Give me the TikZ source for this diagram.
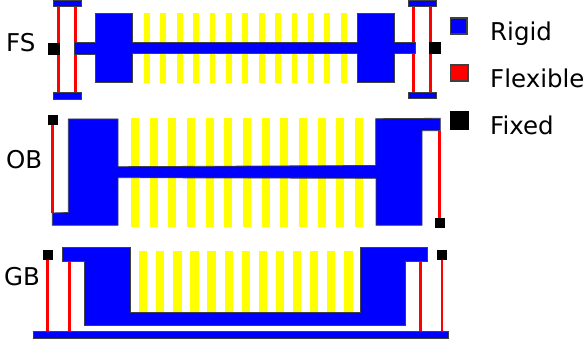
\documentclass[tikz,border=0pt]{standalone}
\usepackage{fontspec}
\setmainfont{DejaVu Sans}
\usepackage{tikz}
\definecolor{fingeryellow}{RGB}{255,255,0}
\definecolor{rigidblue}{RGB}{0,0,255}
\definecolor{flexred}{RGB}{255,0,0}
\tikzset{
    rigid/.style={fill=rigidblue, draw=black!75, line width=0.8pt},
    flexible/.style={draw=flexred, line width=2.6pt},
    fixed/.style={fill=black},
    finger/.style={fill=fingeryellow},
    tag/.style={inner sep=0pt, anchor=base west, font=\fontsize{24.5}{29}\selectfont}
}
\begin{document}
\begin{tikzpicture}[x=1pt, y=-1pt]
                \useasboundingbox (0,0) rectangle (586,347);

                % FS
                \foreach \x in {144, 160.4, ..., 341} {
                    \fill[finger] (\x,13.3) rectangle ++(5.8,69.4);
                }
                \foreach \x in {58.7, 75.7, 413.3, 430.3} {
                    \draw[flexible] (\x,6) -- (\x,93);
                }
                \draw[rigid] (53.5,0.5) rectangle (81.5,6.3);
                \draw[rigid] (53.5,92.7) rectangle (81.5,99);
                \draw[rigid] (408.3,0.5) rectangle (436.7,6.3);
                \draw[rigid] (408.3,92) rectangle (436.7,98);
                \draw[rigid] (74,42.3) -- (95,42.3) -- (95,13.7) -- (132,13.7) -- (132,42.3)
                    -- (357.3,42.3) -- (357.3,13.7) -- (394.3,13.7) -- (394.3,42.3) -- (415,42.3)
                    -- (415,53.5) -- (394.3,53.5) -- (394.3,82.3) -- (357.3,82.3) -- (357.3,53)
                    -- (132,53) -- (132,82.3) -- (95,82.3) -- (95,54) -- (74,54) -- cycle;
                \fill[fixed] (48,42.7) rectangle (60,54.7);
                \fill[fixed] (429.3,42) rectangle (441,54);

                % OB
                \foreach \x in {131, 149.67, ..., 356} {
                    \fill[finger] (\x,117.7) rectangle ++(8,109.6);
                }
                \draw[flexible] (52.3,125) -- (52.3,213);
                \draw[flexible] (439.7,131) -- (439.7,218);
                \draw[rigid] (52.3,213) -- (68.3,212.5) -- (68.3,119) -- (118,119) -- (118,166.7)
                    -- (375.7,165.5) -- (375.7,118.7) -- (440.3,118.3) -- (440.3,130.7) -- (422,130.7)
                    -- (422,225.3) -- (376,225.3) -- (376,178.3) -- (118,177.7) -- (118,225.3)
                    -- (52.3,225.3) -- cycle;
                \fill[fixed] (47.7,115.3) rectangle (57.7,125.3);
                \fill[fixed] (435,218) rectangle (445.3,228);

                % GB
                \foreach \x in {139, 156.1, ..., 345} {
                    \fill[finger] (\x,250.7) rectangle ++(8.3,62);
                }
                \foreach \x in {47.7, 69.3, 420.3, 442} {
                    \draw[flexible] (\x,260) -- (\x,332);
                }
                \draw[rigid] (33.3,331.7) rectangle (448.7,338.7);
                \draw[rigid] (62.5,247.5) -- (130,247.5) -- (130,312.3) -- (360,312.3) -- (360,247.5)
                    -- (427.3,247.5) -- (427.3,261) -- (405.3,261) -- (405.3,325.7) -- (84.3,325.7)
                    -- (84.3,261) -- (62.5,261) -- cycle;
                \fill[fixed] (42.7,250.3) rectangle (53,260.3);
                \fill[fixed] (437,250.3) rectangle (447,260.3);

                % legend
                \draw[rigid, line width=1.1pt] (450.3,18) rectangle (467,34);
                \draw[rigid, fill=flexred, line width=1.1pt] (450.3,65) rectangle (468,81);
                \fill[fixed] (449.7,111) rectangle (469,130);

                \node[tag] (rigidtag) at (490,41) {Rigid};
                \node[tag] (flexibletag) at (490,87.7) {Flexible};
                \node[tag] (fixedtag) at (490,134.5) {Fixed};
                \node[tag] (fstag) at (6,51.5) {FS};
                \node[tag] (obtag) at (6,168.5) {OB};
                \node[tag] (gbtag) at (4,285) {GB};
            \end{tikzpicture}
\end{document}
